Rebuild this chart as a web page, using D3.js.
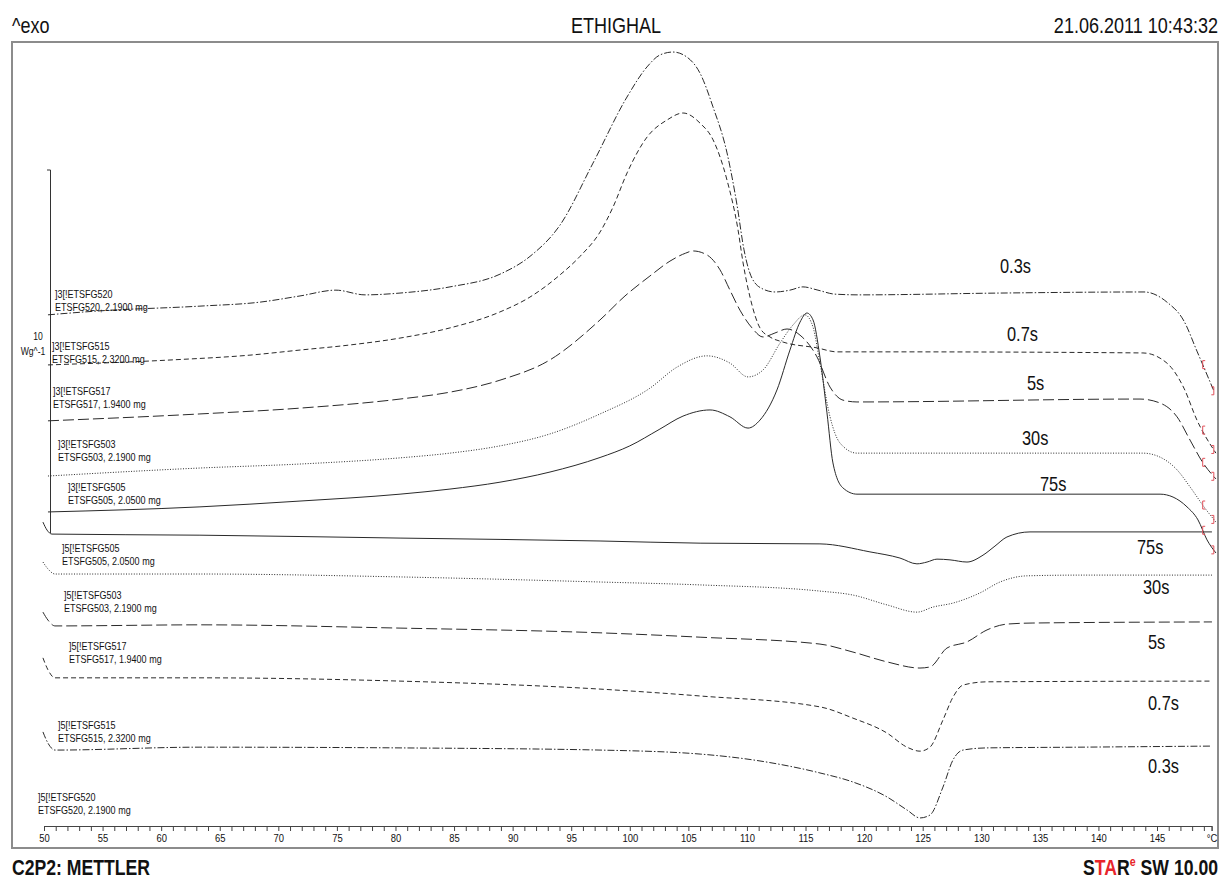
<!DOCTYPE html>
<html><head><meta charset="utf-8">
<script src="https://cdn.jsdelivr.net/npm/d3@7"></script>
<style>
html,body{margin:0;padding:0;background:#fff;}
svg{display:block;}
text{font-family:"Liberation Sans",Arial,sans-serif;fill:#111;}
</style></head><body>
<svg id="chart" width="1223" height="878"></svg>
<script>
// ---------- DATA (temperature °C, heat flow W/g with display offsets) ----------
const sampleIds = ["ETSFG520","ETSFG515","ETSFG517","ETSFG503","ETSFG505"];
const sampleMasses = ["2.1900","2.3200","1.9400","2.1900","2.0500"];
const holdTimes = ["0.3s","0.7s","5s","30s","75s"];
const xTickLabels = ["50","55","60","65","70","75","80","85","90","95","100","105","110","115","120","125","130","135","140","145","°C"];
const scaleBarValue = 10; // Wg^-1

const heating_0_3s = [[50.34,6.01],[54.78,6.12],[63.31,6.25],[68.44,6.36],[71.85,6.53],[74.92,6.69],[77.40,6.56],[80.39,6.61],[84.65,6.78],[88.92,7.13],[91.48,7.62],[94.04,8.48],[96.86,10.19],[99.76,12.01],[101.47,12.84],[102.58,13.17],[103.69,13.25],[104.88,13.11],[105.99,12.67],[107.10,11.74],[108.30,10.47],[109.15,9.04],[109.75,7.80],[110.43,7.02],[111.37,6.72],[112.39,6.64],[113.67,6.69],[114.78,6.78],[116.06,6.69],[117.51,6.58],[119.65,6.56],[131.60,6.61],[143.89,6.64],[145.85,6.36],[147.30,5.84],[148.41,5.01],[149.86,3.91]];
const heating_0_7s = [[50.34,4.63],[61.01,4.77],[67.58,4.90],[71.85,5.04],[76.12,5.18],[80.39,5.37],[84.65,5.65],[88.92,6.09],[91.48,6.50],[94.04,7.11],[95.75,7.62],[97.46,8.29],[98.57,8.98],[99.77,9.92],[101.48,10.91],[103.19,11.38],[104.55,11.57],[106.00,11.29],[107.11,10.83],[108.30,9.72],[109.24,8.35],[109.67,7.44],[110.26,6.50],[111.11,5.65],[111.97,5.40],[113.08,5.26],[115.98,5.10],[117.68,4.99],[123.06,4.99],[143.80,4.96],[145.85,4.68],[147.30,3.99],[148.41,3.11],[150.03,2.20]];
const heating_5s = [[50.34,3.09],[63.31,3.28],[71.85,3.44],[80.39,3.69],[84.65,3.88],[88.92,4.21],[93.19,4.77],[97.46,5.87],[99.59,6.53],[101.72,7.08],[103.43,7.49],[104.77,7.71],[105.39,7.77],[106.59,7.66],[107.70,7.25],[108.55,6.69],[109.40,6.14],[110.43,5.65],[111.37,5.40],[112.39,5.51],[113.42,5.62],[114.53,5.45],[115.98,4.85],[117.09,4.02],[118.20,3.66],[119.39,3.61],[143.55,3.69],[145.26,3.58],[146.71,3.20],[147.82,2.56],[148.93,1.93],[150.03,1.49]];
const heating_30s = [[50.34,1.57],[63.31,1.79],[71.85,1.90],[80.39,2.07],[84.65,2.20],[88.92,2.40],[93.19,2.73],[97.46,3.28],[101.72,3.99],[104.03,4.57],[106.59,4.88],[108.55,4.68],[110.09,4.30],[111.37,4.49],[112.82,5.23],[113.93,5.73],[114.95,6.01],[115.64,5.67],[116.23,4.68],[117.09,3.20],[117.94,2.48],[119.39,2.20],[143.80,2.20],[145.26,2.09],[146.71,1.74],[147.82,1.27],[149.01,0.72],[150.03,0.30]];
const heating_75s = [[50.34,0.58],[63.31,0.72],[71.85,0.88],[80.39,1.07],[84.65,1.21],[88.92,1.40],[93.19,1.68],[97.46,2.08],[100.0,2.40],[102.5,2.85],[104.54,3.22],[106.85,3.39],[108.55,3.20],[110.09,2.89],[111.11,3.11],[112.56,3.94],[113.67,5.04],[114.53,5.81],[115.12,6.06],[115.64,5.87],[116.23,4.85],[116.83,3.31],[117.34,1.93],[118.20,1.24],[119.39,1.07],[145.26,1.07],[146.37,0.99],[147.56,0.72],[148.50,0.36],[149.27,-0.19],[150.03,-0.55]];

const cooling_75s = [[49.91,0.30],[50.26,0.08],[50.68,-0.03],[63.31,-0.06],[80.39,-0.14],[97.46,-0.22],[106.00,-0.28],[116.23,-0.30],[120.50,-0.52],[123.06,-0.69],[124.51,-0.85],[125.37,-0.80],[126.22,-0.72],[127.33,-0.74],[128.78,-0.80],[130.15,-0.61],[131.17,-0.36],[132.19,-0.11],[134.16,0.03],[138.43,0.03],[149.69,0.03]];
const cooling_30s = [[49.91,-0.80],[50.34,-0.99],[50.94,-1.13],[63.31,-1.13],[80.39,-1.21],[97.46,-1.35],[106.00,-1.43],[116.23,-1.60],[119.05,-1.71],[121.95,-1.98],[124.51,-2.18],[125.88,-2.04],[127.59,-1.93],[129.89,-1.65],[131.60,-1.35],[133.90,-1.18],[138.43,-1.16],[149.69,-1.16]];
const cooling_5s = [[49.91,-2.18],[50.34,-2.40],[50.94,-2.56],[63.31,-2.53],[80.39,-2.62],[97.46,-2.75],[106.00,-2.87],[116.23,-3.06],[119.05,-3.28],[121.95,-3.55],[124.77,-3.72],[125.62,-3.69],[127.07,-3.17],[128.78,-3.00],[130.49,-2.67],[132.19,-2.51],[134.41,-2.48],[149.69,-2.45]];
const cooling_0_7s = [[49.91,-3.44],[50.34,-3.77],[50.94,-3.99],[63.31,-3.99],[80.39,-4.08],[97.46,-4.30],[106.00,-4.49],[116.23,-4.79],[119.05,-5.10],[121.95,-5.51],[123.66,-5.90],[124.77,-6.01],[125.62,-5.90],[126.73,-5.15],[127.59,-4.52],[128.44,-4.19],[130.49,-4.10],[149.69,-4.08]];
const cooling_0_3s = [[49.91,-5.48],[50.34,-5.79],[50.94,-5.98],[63.31,-5.90],[80.39,-5.92],[97.46,-5.98],[106.00,-6.09],[111.11,-6.28],[116.23,-6.61],[119.05,-6.86],[121.95,-7.27],[123.66,-7.63],[124.77,-7.85],[125.62,-7.77],[126.73,-7.00],[127.59,-6.25],[128.44,-5.98],[130.49,-5.92],[138.43,-5.90],[149.69,-5.87]];

const endMarkerTemps = [148.9, 149.85];

// ---------- LAYOUT ----------
const svg = d3.select("#chart");
const xEnd = 149.66;
const x = d3.scaleLinear().domain([50, xEnd]).range([44, 1211.6]);
const y = d3.scaleLinear().domain([0, 10]).range([533, 170]);
const NARROW = 0.82;

// narrow-text helper (Arial-Narrow look)
function ntext(px, py, size, str, anchor){
  const g = svg.append("g").attr("transform",`translate(${px},${py}) scale(${NARROW},1)`);
  return g.append("text").attr("font-size",size).attr("text-anchor",anchor||"start").text(str);
}

// frame
svg.append("rect").attr("x",12).attr("y",42).attr("width",1206).attr("height",806)
  .attr("fill","none").attr("stroke","#8c8c8c").attr("stroke-width",2);

// header / footer
ntext(12,33,22,"^exo");
ntext(616,33,22,"ETHIGHAL","middle");
ntext(1218,33,22,"21.06.2011 10:43:32","end");
ntext(12,875,21.5,"C2P2: METTLER").attr("font-weight","bold");
const star = ntext(1218,875,21.5,"","end").attr("font-weight","bold");
star.append("tspan").text("S");
star.append("tspan").style("fill","#e8252b").text("TA");
star.append("tspan").text("R");
star.append("tspan").style("fill","#e8252b").attr("font-size",13).attr("dy",-9).text("e");
star.append("tspan").attr("dy",9).text(" SW 10.00");

// x axis
const tickVals = d3.range(50, 150).concat([xEnd]);
const xAxis = d3.axisBottom(x).tickValues(tickVals).tickSize(5).tickSizeOuter(5)
  .tickFormat(d => d === xEnd ? xTickLabels[xTickLabels.length-1] : (d % 5 === 0 ? xTickLabels[(d-50)/5] : ""));
const gx = svg.append("g").attr("transform","translate(0,826)").call(xAxis);
gx.selectAll("path,line").attr("stroke","#444").attr("stroke-width",1);
gx.selectAll("text").attr("font-size",11.5).attr("fill","#222")
  .attr("transform",`scale(${NARROW},1)`)
  .style("font-family",'"Liberation Sans",Arial,sans-serif');

// y scale bar
svg.append("path").attr("d",`M47,${y(scaleBarValue)}H50.5V${y(0)}`).attr("fill","none").attr("stroke","#333").attr("stroke-width",1);
ntext(38,340,10.5,String(scaleBarValue),"middle");
ntext(33,355,10.5,"Wg^-1","middle");

// curves
const line = d3.line().x(d => x(d[0])).y(d => y(d[1])).curve(d3.curveMonotoneX);
const dashes = ["7,2,1.5,2","5,3","11,4","1,1.6",null];
const heating = [heating_0_3s, heating_0_7s, heating_5s, heating_30s, heating_75s];
const cooling = [cooling_0_3s, cooling_0_7s, cooling_5s, cooling_30s, cooling_75s];

function drawCurve(data, dash){
  const p = svg.append("path").datum(data).attr("d", line).attr("fill","none")
    .attr("stroke","#2a2a2a").attr("stroke-width",1);
  if (dash) p.attr("stroke-dasharray", dash);
}
heating.forEach((d,i)=>drawCurve(d, dashes[i]));
cooling.forEach((d,i)=>drawCurve(d, dashes[i]));

// red end markers on heating curves
function interp(data, t){
  for (let i=0;i<data.length-1;i++){
    if (t>=data[i][0] && t<=data[i+1][0]){
      const f=(t-data[i][0])/(data[i+1][0]-data[i][0]);
      return data[i][1]+f*(data[i+1][1]-data[i][1]);
    }
  }
  return data[data.length-1][1];
}
heating.forEach(data=>{
  endMarkerTemps.forEach((t,k)=>{
    const px = x(t), py = y(interp(data,t));
    const d = k===0 ? `M${px+2.5},${py-4}h-2.5v8h2.5` : `M${px-2.5},${py-4}h2.5v8h-2.5`;
    svg.append("path").attr("d",d).attr("fill","none").attr("stroke","#e0505a").attr("stroke-width",1);
  });
});

// sample labels (heating "]3[", cooling "]5[")
const heatLabelPos = [[55,298],[52,350],[53,395],[58,448],[68,491]];
const coolLabelPos = [[38,801],[58,729],[69,650],[64,599],[62,552]];
function sampleLabel(pos, prefix, i){
  ntext(pos[0],pos[1],11,prefix + sampleIds[i]);
  ntext(pos[0],pos[1]+13,11,`${sampleIds[i]}, ${sampleMasses[i]} mg`);
}
sampleIds.forEach((s,i)=>{ sampleLabel(heatLabelPos[i], "]3[!", i); sampleLabel(coolLabelPos[i], "]5[!", i); });

// hold-time labels
const heatTimePos = [[1000,273],[1007,341],[1027,390],[1022,445],[1040,491]];
const coolTimePos = [[1148,773],[1148,710],[1148,649],[1143,594],[1137,554]];
holdTimes.forEach((t,i)=>{
  ntext(heatTimePos[i][0],heatTimePos[i][1],20,t);
  ntext(coolTimePos[i][0],coolTimePos[i][1],20,t);
});
</script>
</body></html>
